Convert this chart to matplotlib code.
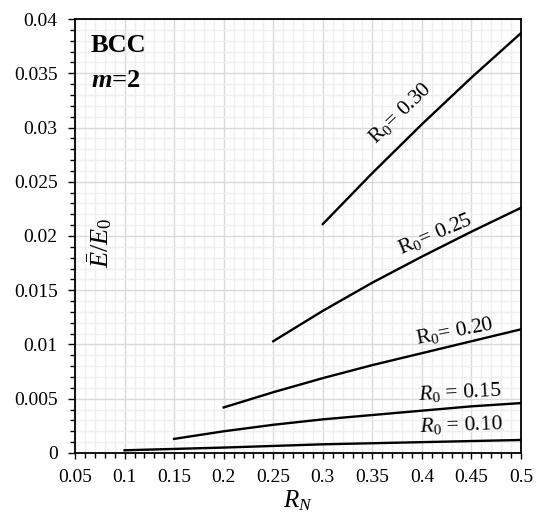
import matplotlib
matplotlib.use("Agg")
import matplotlib.pyplot as plt
from matplotlib.ticker import MultipleLocator

plt.rcParams['font.family'] = ['Liberation Serif', 'DejaVu Serif']
plt.rcParams['mathtext.fontset'] = 'custom'
plt.rcParams['mathtext.rm'] = 'Liberation Serif'
plt.rcParams['mathtext.it'] = 'Liberation Serif:italic'
plt.rcParams['mathtext.bf'] = 'Liberation Serif:bold'
plt.rcParams['mathtext.bfit'] = 'Liberation Serif:bold:italic'

# curves (R_N, E/E0)
rn_030 = [0.30, 0.35, 0.40, 0.45, 0.50]
e_030 = [0.0211, 0.0258, 0.0303, 0.0346, 0.0387]

rn_025 = [0.25, 0.30, 0.35, 0.40, 0.45, 0.50]
e_025 = [0.0103, 0.0131, 0.0157, 0.0181, 0.0204, 0.0226]

rn_020 = [0.20, 0.25, 0.30, 0.35, 0.40, 0.45, 0.50]
e_020 = [0.0042, 0.0056, 0.0069, 0.0081, 0.0092, 0.0103, 0.0114]

rn_015 = [0.15, 0.20, 0.25, 0.30, 0.35, 0.40, 0.45, 0.50]
e_015 = [0.0013, 0.0020, 0.0026, 0.0031, 0.0035, 0.0039, 0.0043, 0.0046]

rn_010 = [0.10, 0.20, 0.30, 0.40, 0.50]
e_010 = [0.00025, 0.0005, 0.0008, 0.0010, 0.0012]

x_ticks = [0.05, 0.1, 0.15, 0.2, 0.25, 0.3, 0.35, 0.4, 0.45, 0.5]
x_labels = ['0.05', '0.1', '0.15', '0.2', '0.25', '0.3', '0.35', '0.4', '0.45', '0.5']
y_ticks = [0, 0.005, 0.01, 0.015, 0.02, 0.025, 0.03, 0.035, 0.04]
y_labels = ['0', '0.005', '0.01', '0.015', '0.02', '0.025', '0.03', '0.035', '0.04']

fig = plt.figure(figsize=(5.36, 5.15), dpi=100)
ax = fig.add_axes([0.14, 0.1204, 0.832, 0.8427])

for xs, ys in [(rn_030, e_030), (rn_025, e_025), (rn_020, e_020),
               (rn_015, e_015), (rn_010, e_010)]:
    ax.plot(xs, ys, color='black', lw=1.7, zorder=3)

ax.set_xlim(0.05, 0.5)
ax.set_ylim(0, 0.04)
ax.set_xticks(x_ticks)
ax.set_xticklabels(x_labels)
ax.set_yticks(y_ticks)
ax.set_yticklabels(y_labels)
ax.xaxis.set_minor_locator(MultipleLocator(0.01))
ax.yaxis.set_minor_locator(MultipleLocator(0.001))
ax.tick_params(which='major', direction='out', width=1, labelsize=14)
ax.tick_params(which='minor', direction='out', length=3.5, width=1)
ax.tick_params(axis='x', which='major', length=4, pad=7.5)
ax.tick_params(axis='y', which='major', length=5, pad=7.5)
ax.grid(which='major', color='#d9d9d9', lw=1)
ax.grid(which='minor', color='#efefef', lw=1)
ax.set_axisbelow(True)
for s in ax.spines.values():
    s.set_linewidth(1.3)

ax.set_xlabel(r'$R_N$', fontsize=18, labelpad=2)
ax.text(0.054, 0.484, r'$\bar{E}/E_0$', transform=ax.transAxes, rotation=90,
        fontsize=19, ha='center', va='center')

ax.text(0.036, 0.924, 'BCC', transform=ax.transAxes, fontsize=19,
        fontweight='bold', ha='left', va='baseline')
ax.text(0.036, 0.843, r'$\mathbfit{m}$=2', transform=ax.transAxes, fontsize=19,
        fontweight='bold', ha='left', va='baseline')

lab_kw = dict(fontsize=15.5, ha='center', va='center', rotation_mode='anchor')
ax.text(0.378, 0.0313, r'$\mathrm{R}_{\mathit{0}}$= 0.30', rotation=44, **lab_kw)
ax.text(0.4134, 0.0202, r'$\mathrm{R}_{\mathit{0}}$= 0.25', rotation=23, **lab_kw)
ax.text(0.433, 0.0112, r'$\mathrm{R}_{\mathit{0}}$= 0.20', rotation=11, **lab_kw)
ax.text(0.438, 0.0056, r'$R_{\mathit{0}}$ = 0.15', rotation=3, **lab_kw)
ax.text(0.440, 0.0026, r'$R_{\mathit{0}}$ = 0.10', rotation=2, **lab_kw)

fig.savefig('out.png', dpi=100)
